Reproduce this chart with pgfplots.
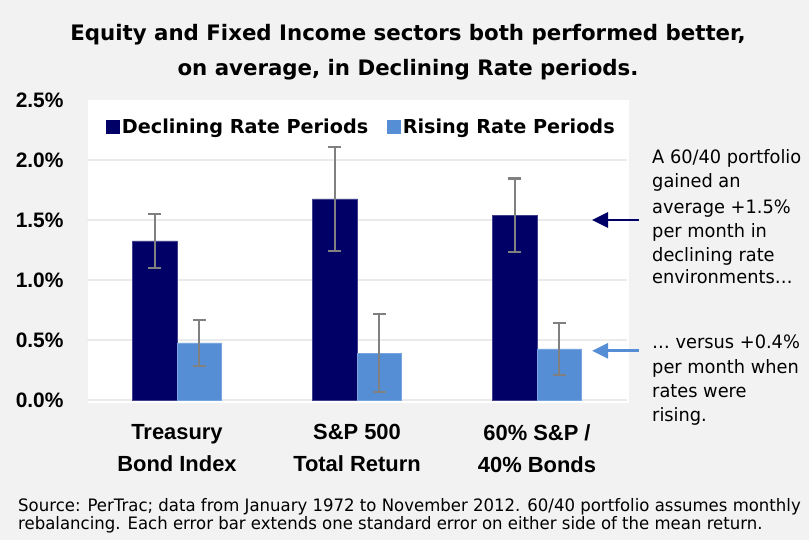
\documentclass[border=0pt]{standalone}
\usepackage{pgfplots}
\pgfplotsset{compat=1.18}
\usepackage{fontspec}
\usetikzlibrary{arrows.meta}
\setmainfont{Liberation Sans}
\newfontfamily\verdana{DejaVu Sans}
\newfontfamily\tahoma{DejaVu Sans}[FakeStretch=0.965]
\definecolor{navy}{RGB}{0,0,102}
\definecolor{lblue}{RGB}{85,142,213}
\definecolor{bggray}{RGB}{242,242,242}
\definecolor{gridgray}{RGB}{235,235,235}
\definecolor{errgray}{RGB}{128,128,128}

% one x unit = 180bp, one y unit (1%) = 120bp; x=0 at 177bp, y=0 at 400bp from the top
\begin{document}
\begin{tikzpicture}[
    note/.style={anchor=base west, inner sep=0pt, font=\tahoma\fontsize{18.5}{22}\selectfont},
    src/.style={anchor=base west, inner sep=0pt, font=\tahoma\fontsize{17.2}{20}\selectfont},
    ttl/.style={anchor=base, inner sep=0pt, font=\verdana\bfseries\fontsize{21.4}{25}\selectfont}]
\begin{axis}[
    set layers,
    scale only axis, width=540bp, height=300bp,
    xmin=-0.5, xmax=2.5, ymin=0, ymax=2.5,
    axis line style={draw=none},
    major tick length=0pt,
    clip=false,
    ybar=0pt, bar width=44.5bp,
    ytick={0,0.5,1,1.5,2},
    ymajorgrids, grid style={gridgray, line width=1.5bp},
    extra y ticks={2.5}, extra y tick style={grid=none},
    yticklabel={\pgfmathprintnumber[fixed,fixed zerofill,precision=1]{\tick}\%},
    /pgf/number format/assume math mode=true,
    yticklabel style={font=\bfseries\fontsize{21}{24}\selectfont, anchor=east, xshift=-20bp},
    xtick={0,1,2},
    xticklabels={{Treasury\\Bond Index},{S\&P 500\\Total Return},{60\% S\&P /\\40\% Bonds}},
    xticklabel style={font=\bfseries\fontsize{22}{32}\selectfont, align=center, anchor=north, yshift=-21bp},
    legend style={at={(axis cs:-0.394,2.279)}, anchor=west, draw=none, fill=none,
        inner sep=0pt, font=\verdana\bfseries\fontsize{19.3}{23}\selectfont,
        /tikz/every even column/.append style={column sep=17bp}},
    legend columns=2, legend cell align=left,
    error bars/y dir=both, error bars/y explicit,
    error bars/error bar style={errgray, line width=2.2bp},
    error bars/error mark options={errgray, line width=2.2bp, mark size=6.3bp, rotate=90},
]
\begin{pgfonlayer}{axis background}
  \fill[bggray] (axis cs:-0.98333,-1.16667) rectangle (axis cs:3.51111,3.33333);
  \fill[white] (axis cs:-0.49444,-0.025) rectangle (axis cs:2.51111,2.5);
\end{pgfonlayer}

\addplot[fill=navy, draw=navy!75!white, line width=0.6bp,
    legend image code/.code={\fill[navy] (0bp,-6.5bp) rectangle (13bp,6.5bp);}]
  coordinates {(0,1.325) +- (0,0.225) (1,1.675) +- (0,0.435) (2,1.54) +- (0,0.305)};
\addlegendentry{Declining Rate Periods}
\addplot[fill=lblue, draw=lblue!80!white, line width=0.6bp,
    legend image code/.code={\fill[lblue] (0bp,-6.5bp) rectangle (13bp,6.5bp);}]
  coordinates {(0,0.475) +- (0,0.19) (1,0.39) +- (0,0.325) (2,0.425) +- (0,0.215)};
\addlegendentry{Rising Rate Periods}

\draw[navy, line width=2.7bp, -{Triangle[length=16bp,width=15bp]}]
  (axis cs:2.5667,1.5) -- (axis cs:2.3056,1.5);
\draw[lblue, line width=2.7bp, -{Triangle[length=16bp,width=15bp]}]
  (axis cs:2.5667,0.41) -- (axis cs:2.3056,0.41);

% title
\node[ttl] at (axis cs:1.2833,2.9917) {Equity and Fixed Income sectors both performed better,};
\node[ttl] at (axis cs:1.2833,2.7083) {on average, in Declining Rate periods.};

% annotations
\node[note] at (axis cs:2.6389,1.9667) {A 60/40 portfolio};
\node[note] at (axis cs:2.6389,1.7667) {gained an};
\node[note] at (axis cs:2.6389,1.5583) {average +1.5\%};
\node[note] at (axis cs:2.6389,1.3583) {per month in};
\node[note] at (axis cs:2.6389,1.1583) {declining rate};
\node[note] at (axis cs:2.6389,0.9667) {environments…};
\node[note] at (axis cs:2.6389,0.4333) {… versus +0.4\%};
\node[note] at (axis cs:2.6389,0.225) {per month when};
\node[note] at (axis cs:2.6389,0.025) {rates were};
\node[note] at (axis cs:2.6389,-0.175) {rising.};

% source
\node[src] at (axis cs:-0.8833,-0.925)
  {Source: PerTrac; data from January 1972 to November 2012. 60/40 portfolio assumes monthly};
\node[src] at (axis cs:-0.8833,-1.0833)
  {rebalancing. Each error bar extends one standard error on either side of the mean return.};
\end{axis}
\end{tikzpicture}
\end{document}
